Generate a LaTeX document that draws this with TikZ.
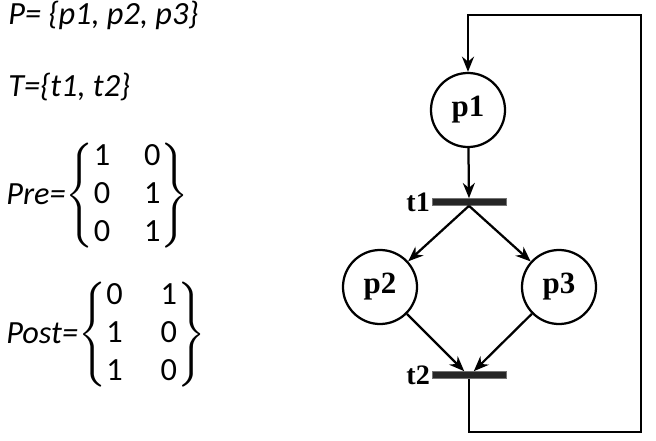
\documentclass[tikz,border=0pt]{standalone}
\usepackage{amsmath}
\usepackage{fontspec}
\setmainfont{Carlito}
\newfontfamily\lblfont{Liberation Serif}
\usetikzlibrary{arrows.meta}
\delimiterfactor=800
\delimitershortfall=20pt

\begin{document}
\begin{tikzpicture}[x=0.025cm, y=-0.025cm,
  place/.style={draw, circle, line width=1.6pt, minimum size=1.85cm, inner sep=0pt,
                font=\lblfont\fontsize{22}{24}\selectfont\bfseries},
  trans/.style={draw=black!55, fill=black!85, line width=0.6pt, minimum width=1.85cm,
                minimum height=0.17cm, inner sep=0pt},
  tlabel/.style={font=\lblfont\fontsize{20}{22}\selectfont\bfseries, inner sep=1pt},
  arc/.style={line width=1.6pt, -{Stealth[length=0.38cm, width=0.3cm]}},
  settext/.style={font=\fontsize{23}{27}\selectfont\itshape, inner sep=0pt}]
\useasboundingbox (0,0) rectangle (656,440);
% sets and matrices
\node[settext, anchor=base west] (setP) at (8,25) {P= \{p1, p2, p3\}};
\node[settext, anchor=base west] (setT) at (8,97) {T=\{t1, t2\}};
\node[settext, anchor=west] (pre) at (6,196)
  {Pre=$\left\{\begin{tabular}{@{}l@{\hspace{0.85cm}}l@{}}\upshape 1&\upshape 0\\
   \upshape 0&\upshape 1\\ \upshape 0&\upshape 1\end{tabular}\right\}$};
\node[settext, anchor=west] (post) at (6,335)
  {Post=$\left\{\begin{tabular}{@{}l@{\hspace{0.95cm}}l@{}}\upshape 0&\upshape 1\\
   \upshape 1&\upshape 0\\ \upshape 1&\upshape 0\end{tabular}\right\}$};
% the net
\node[place] (p1) at (468,110) {p1};
\node[trans] (t1) at (469,202) {};
\node[place] (p2) at (380,287) {p2};
\node[place] (p3) at (559,287) {p3};
\node[trans] (t2) at (469,375) {};
\node[tlabel, anchor=east] (lt1) at (t1.west) {t1};
\node[tlabel, anchor=east] (lt2) at (t2.west) {t2};
\coordinate (loopR) at (641,432);
\coordinate (loopT) at (641,15);
\draw[arc] (p1) -- (t1.north);
\draw[arc] (t1.south) -- (p2);
\draw[arc] (t1.south) -- (p3);
\draw[arc] (p2) -- ([xshift=-0.12cm]t2.north);
\draw[arc] (p3) -- ([xshift=0.12cm]t2.north);
\draw[arc] (t2.south) |- (loopR) -- (loopT) -| (p1.north);
\end{tikzpicture}
\end{document}
